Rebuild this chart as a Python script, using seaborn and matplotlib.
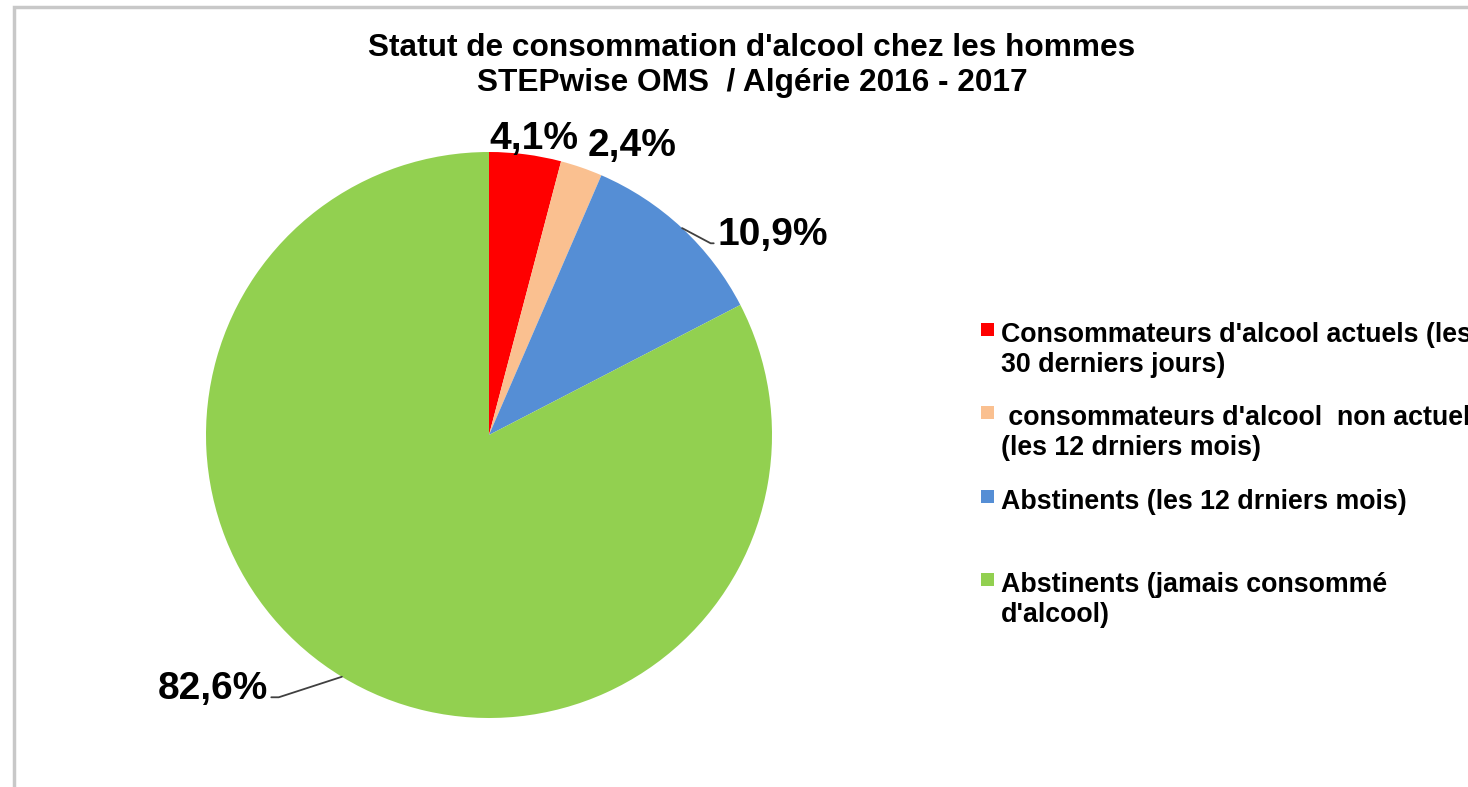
import numpy as np
import pandas as pd
import matplotlib
matplotlib.use("Agg")
import matplotlib.pyplot as plt
from matplotlib.patches import Rectangle
import seaborn as sns

# ------------------------------ DATA ------------------------------

categories = [
    "Consommateurs d'alcool actuels (les\n30 derniers jours)",
    " consommateurs d'alcool  non actuel\n(les 12 drniers mois)",
    "Abstinents (les 12 drniers mois)",
    "Abstinents (jamais consommé\nd'alcool)",
]
shares = [4.1, 2.4, 10.9, 82.6]
slice_colors = ["#FF0000", "#FAC090", "#558ED5", "#92D050"]

title_lines = ["Statut de consommation d'alcool chez les hommes",
               "STEPwise OMS  / Algérie 2016 - 2017"]

df = pd.DataFrame({"categorie": categories, "pct": shares})

# ------------------------------ STYLE ------------------------------

sns.set_theme(style="white")
plt.rcParams["font.family"] = ["Liberation Sans", "DejaVu Sans"]
plt.rcParams["font.weight"] = "bold"
plt.rcParams["text.color"] = "black"

W, H = 1468, 787
fig = plt.figure(figsize=(W / 100, H / 100), dpi=100)

# pie axes: centre (489, 435) px, radius 283 px
cx, cy, r = 489, 435, 283
ax = fig.add_axes([(cx - r) / W, (H - cy - r) / H, 2 * r / W, 2 * r / H])

palette = sns.color_palette(slice_colors)
wedges, _ = ax.pie(df["pct"], colors=palette, startangle=90, counterclock=False,
                   radius=1, wedgeprops=dict(linewidth=0))
ax.set_xlim(-1, 1)
ax.set_ylim(-1, 1)
ax.set_aspect("equal")
ax.axis("off")

# ------------------------------ LABELS ------------------------------

def px(x, y):
    # pixel position -> pie data coordinates
    return (x - cx) / r, (cy - y) / r

# (text anchor in px, ha, leader?, relpos, angle of the leader's slanted part)
label_layout = [
    ((534, 149), "center", False, None, None),
    ((632, 156), "center", False, None, None),
    ((717, 245), "left", True, (0, 0.27), -28),
    ((268, 699), "right", True, (1, 0.27), 18),
]

for w, v, (pos, ha, leader, relpos, ang) in zip(wedges, df["pct"], label_layout):
    txt = f"{v:.1f}".replace(".", ",") + "%"
    mid = np.deg2rad((w.theta1 + w.theta2) / 2)
    edge = (np.cos(mid), np.sin(mid))
    if leader:
        ax.annotate(txt, xy=edge, xytext=px(*pos), textcoords="data",
                    ha=ha, va="baseline", fontsize=28, fontweight="bold",
                    color="black", annotation_clip=False,
                    arrowprops=dict(arrowstyle="-", color="#404040", lw=1.3,
                                    relpos=relpos, shrinkA=0, shrinkB=0,
                                    connectionstyle=f"angle,angleA=0,angleB={ang},rad=0"))
    else:
        ax.text(*px(*pos), txt, ha=ha, va="baseline", fontsize=28,
                fontweight="bold", color="black", clip_on=False)

# ------------------------------ TITLE ------------------------------

fig.text(752 / W, 1 - 56 / H, title_lines[0], ha="center", va="baseline",
         fontsize=22.8, fontweight="bold", color="black")
fig.text(752 / W, 1 - 91 / H, title_lines[1], ha="center", va="baseline",
         fontsize=22.8, fontweight="bold", color="black")

# ------------------------------ LEGEND ------------------------------

for i, (lab, col) in enumerate(zip(df["categorie"], palette)):
    base = 342 + 83.3 * i
    fig.add_artist(Rectangle((981 / W, 1 - (base - 6) / H), 13 / W, 13 / H,
                             transform=fig.transFigure, facecolor=col,
                             edgecolor="none"))
    for j, line in enumerate(lab.split("\n")):
        fig.text(1001 / W, 1 - (base + 30 * j) / H, line, ha="left",
                 va="baseline", fontsize=19.3, fontweight="bold", color="black")

# chart frame (runs past the right and bottom edges)
fig.add_artist(Rectangle((14 / W, -0.1), 1.2, 1 - 7 / H + 0.1,
                         transform=fig.transFigure, fill=False,
                         edgecolor="#C8C8C8", lw=2.5))

fig.savefig("out.png", dpi=100)
